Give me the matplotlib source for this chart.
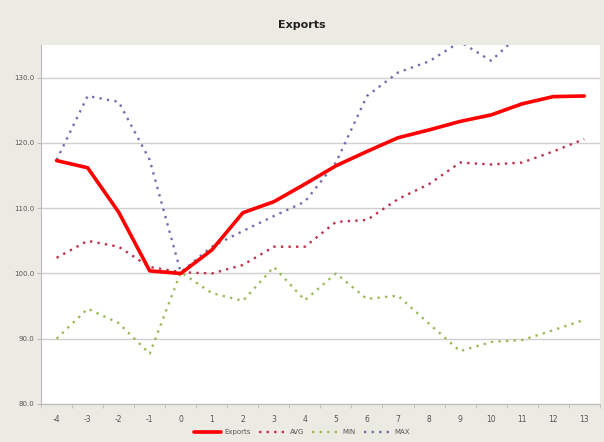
import matplotlib
matplotlib.use("Agg")
import matplotlib.pyplot as plt
import numpy as np

categories = ["-4", "-3", "-2", "-1", "0", "1", "2", "3", "4", "5", "6", "7", "8", "9", "10", "11", "12", "13"]
exports = [117.3, 116.2, 109.4, 100.4, 100.0, 103.6, 109.3, 111.0, 113.7, 116.5, 118.7, 120.8, 122.0, 123.3, 124.3, 126.0, 127.1, 127.2]
avg = [102.4, 105.0, 104.1, 101.0, 100.2, 100.0, 101.3, 104.1, 104.1, 107.9, 108.2, 111.4, 113.7, 117.0, 116.7, 117.0, 118.7, 120.6]
mins = [90.0, 94.6, 92.4, 87.7, 100.2, 97.0, 95.8, 101.0, 95.9, 100.0, 96.1, 96.6, 92.3, 88.1, 89.5, 89.8, 91.3, 92.9]
maxs = [117.4, 127.2, 126.3, 117.4, 100.2, 104.1, 106.5, 108.8, 111.0, 117.0, 127.2, 130.8, 132.5, 135.5, 132.6, 137.0, 139.0, 141.0]
yticks = [80, 90, 100, 110, 120, 130]

bg = "#ECEBE3"
fig = plt.figure(figsize=(6.04, 4.42), dpi=100, facecolor=bg)
ax = fig.add_axes([0.068, 0.086, 0.925, 0.812])
ax.set_facecolor("white")

x = np.arange(len(categories))
ax.plot(x, exports, color="#FF0000", lw=2.6, label="Exports", zorder=5, solid_capstyle="round")
ax.plot(x, avg, color="#C0304D", lw=1.7, ls=(0, (1, 2.2)), label="AVG", zorder=4)
ax.plot(x, mins, color="#9BBB59", lw=1.7, ls=(0, (1, 2.2)), label="MIN", zorder=3)
ax.plot(x, maxs, color="#7070B0", lw=1.7, ls=(0, (1, 2.2)), label="MAX", zorder=3)

ax.set_xlim(-0.5, len(categories) - 0.5)
ax.set_ylim(80, 135)
ax.set_yticks(yticks)
ax.set_yticklabels([f"{v:.1f}" for v in yticks], fontsize=5, color="#555555")
ax.set_xticks(x)
ax.set_xticklabels(categories, fontsize=5.5, color="#555555")
ax.tick_params(axis="x", length=0, pad=8)
ax.tick_params(axis="y", length=3, color="#BBBBBB", pad=2)
ax.set_xticks(np.arange(-0.5, len(categories), 1), minor=True)
ax.tick_params(axis="x", which="minor", length=3, color="#BBBBBB")
ax.grid(axis="y", color="#D0D0D0", lw=1)
ax.set_axisbelow(True)
for s in ["top", "right"]:
    ax.spines[s].set_visible(False)
for s in ["left", "bottom"]:
    ax.spines[s].set_color("#BBBBBB")

fig.text(0.5, 0.944, "Exports", ha="center", va="center", fontsize=8, fontweight="bold", color="#222222")
leg = fig.legend(loc="center", bbox_to_anchor=(0.5, 0.022), ncol=4, frameon=False, fontsize=5,
                 handlelength=4, columnspacing=1.2, handletextpad=0.4)
for t in leg.get_texts():
    t.set_color("#555555")
fig.savefig("out.png", dpi=100, facecolor=bg)
